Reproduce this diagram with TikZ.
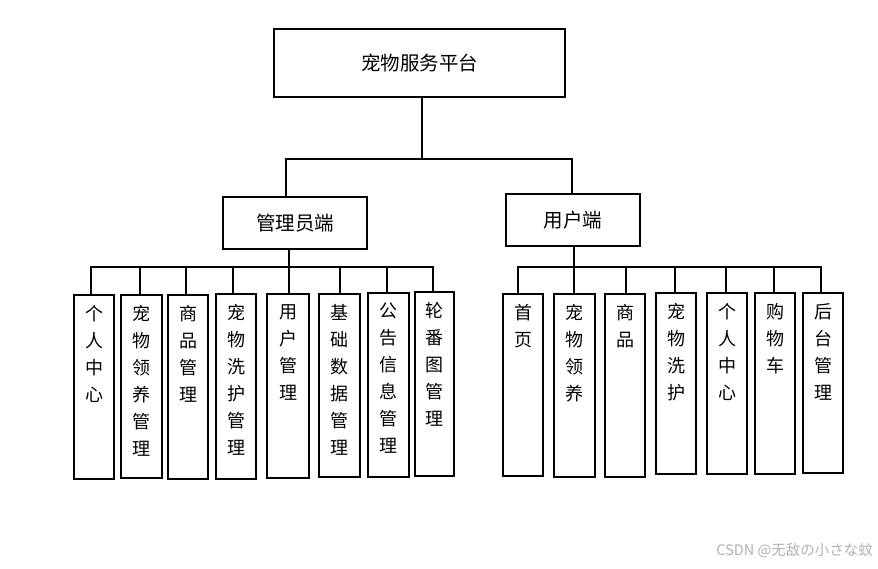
\documentclass[tikz,border=0pt]{standalone}
\usepackage{fontspec}
\newfontfamily\cjk{Noto Sans CJK SC}
\begin{document}
\begin{tikzpicture}[x=1pt,y=-1pt,
  box/.style={draw=black, line width=2.2pt, line join=miter, inner sep=0pt, fill=white},
  conn/.style={draw=black, line width=2.2pt, line cap=rect},
  vtext/.style={anchor=north, inner sep=0pt, align=center, font=\cjk\fontsize{18}{27}\selectfont},
  htext/.style={inner sep=0pt, font=\cjk\fontsize{19.5}{24}\selectfont}]
\fill[white] (0,0) rectangle (878,568);
\useasboundingbox (0,0) rectangle (878,568);

% top level
\node[box, minimum width=291pt, minimum height=68pt] (root) at (419.5,63) {};
\node[htext] (roott) at (root.center) {宠物服务平台};
\node[box, minimum width=144pt, minimum height=52pt] (admin) at (295,223) {};
\node[htext] (admint) at (admin.center) {管理员端};
\node[box, minimum width=134pt, minimum height=52pt] (user) at (573,220) {};
\node[htext] (usert) at (user.center) {用户端};

% leaves
\newcommand{\leafbox}[6]{%
  \node[box, minimum width=#3pt-#2pt, minimum height=#5pt-#4pt, anchor=north west] (#1) at (#2,#4) {};
  \node[vtext] (#1t) at ([yshift=-11pt]#1.north) {#6};
}
\leafbox{a1}{73}{113}{294}{478}{个\\人\\中\\心}
\leafbox{a2}{120}{161}{294}{477}{宠\\物\\领\\养\\管\\理}
\leafbox{a3}{167}{207}{294}{478}{商\\品\\管\\理}
\leafbox{a4}{215}{255}{293}{478}{宠\\物\\洗\\护\\管\\理}
\leafbox{a5}{266}{308}{293}{477}{用\\户\\管\\理}
\leafbox{a6}{318}{359}{293}{476}{基\\础\\数\\据\\管\\理}
\leafbox{a7}{367}{408}{292}{476}{公\\告\\信\\息\\管\\理}
\leafbox{a8}{414}{453}{291}{475}{轮\\番\\图\\管\\理}

\leafbox{u1}{502}{542}{293}{475}{首\\页}
\leafbox{u2}{553}{594}{293}{476}{宠\\物\\领\\养}
\leafbox{u3}{604}{644}{293}{476}{商\\品}
\leafbox{u4}{655}{695}{292}{473}{宠\\物\\洗\\护}
\leafbox{u5}{706}{746}{292}{473}{个\\人\\中\\心}
\leafbox{u6}{754}{794}{292}{473}{购\\物\\车}
\leafbox{u7}{802}{842}{292}{472}{后\\台\\管\\理}

% junction coordinates
\coordinate (rj) at (422,159);
\coordinate (mL) at (286,159);
\coordinate (mR) at (572,159);
\coordinate (aj) at (289,267);
\coordinate (uj) at (574,267);

% connectors top
\draw[conn] (root.south -| rj) -- (rj);
\draw[conn] (mL) -- (mR);
\draw[conn] (mL) -- (mL |- admin.north);
\draw[conn] (mR) -- (mR |- user.north);

% left bus
\draw[conn] (admin.south -| aj) -- (aj);
\foreach \n/\x in {a1/91,a2/140,a3/186,a4/233,a5/289,a6/340,a7/387,a8/433}{
  \coordinate (b\n) at (\x,267);
  \draw[conn] (b\n) -- (b\n |- \n.north);
}
\draw[conn] (ba1) -- (ba8);
% right bus
\draw[conn] (user.south -| uj) -- (uj);
\foreach \n/\x in {u1/518,u2/574,u3/626,u4/675,u5/726,u6/774,u7/821}{
  \coordinate (b\n) at (\x,267);
  \draw[conn] (b\n) -- (b\n |- \n.north);
}
\draw[conn] (bu1) -- (bu7);

% watermark
\node[anchor=east, inner sep=0pt, text=black!30, font=\cjk\fontsize{14.5}{16}\selectfont] (wm) at (873,551) {CSDN @无敌の小さな蚊};
\end{tikzpicture}
\end{document}
